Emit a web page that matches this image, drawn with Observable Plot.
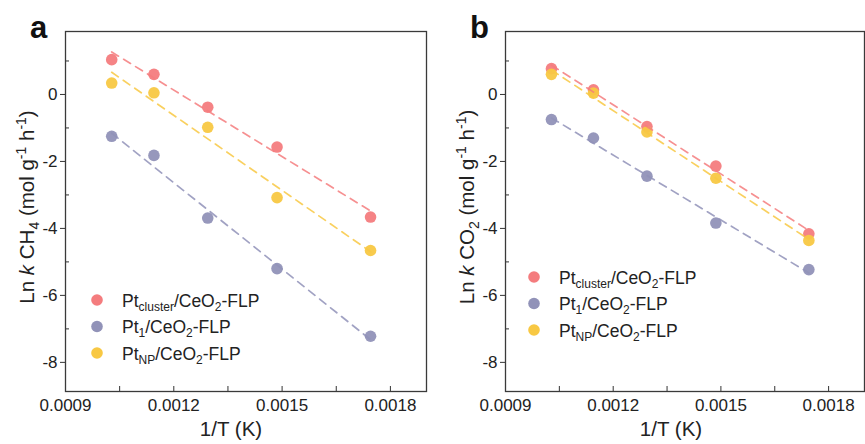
<!DOCTYPE html>
<html><head>
<meta charset="utf-8">
<script src="https://cdn.jsdelivr.net/npm/d3@7"></script>
<script src="https://cdn.jsdelivr.net/npm/@observablehq/plot@0.6"></script>
<style>
body{margin:0;background:#fff;font-family:"Liberation Sans",Arial,sans-serif;}
#wrap{position:relative;width:865px;height:444px;overflow:hidden;}
#wrap svg{position:absolute;top:0;overflow:visible;}
</style></head><body><div id="wrap"></div>
<script>
// 1/T values (K^-1)
const invT = [0.001028, 0.001145, 0.001294, 0.001486, 0.001745];
const seriesNames = ["cluster", "1", "NP"];
const seriesColors = ["#f47c7e", "#9192b8", "#f8c843"];
// Panel a: Ln k CH4
const ch4Cluster = [1.04, 0.60, -0.38, -1.57, -3.66];
const ch4Single  = [-1.25, -1.82, -3.69, -5.20, -7.22];
const ch4NP      = [0.34, 0.05, -0.98, -3.08, -4.66];
// Panel b: Ln k CO2
const co2Cluster = [0.77, 0.14, -0.96, -2.14, -4.16];
const co2Single  = [-0.75, -1.30, -2.44, -3.84, -5.23];
const co2NP      = [0.60, 0.04, -1.12, -2.50, -4.36];
// ticks
const xMajor = [0.0009, 0.0012, 0.0015, 0.0018];
const xMinor = [0.00105, 0.00135, 0.00165];
const yMajor = [-8, -6, -4, -2, 0];
const yMinor = [-7, -5, -3, -1, 1];

function rows(arrs) {
  const out = [];
  arrs.forEach((arr, s) => arr.forEach((v, i) => out.push({x: invT[i], y: v, s: seriesNames[s]})));
  return out;
}

const wrap = document.getElementById("wrap");

function panel({data, left, width, marginLeft, marginRight, letter, species, legendX, legendY}) {
  const plot = Plot.plot({
    width, height: 444,
    marginLeft, marginRight, marginTop: 31, marginBottom: 53,
    style: {fontFamily: "Liberation Sans, Arial, sans-serif", fontSize: "17px", color: "#222", background: "transparent"},
    x: {domain: [0.0009, 0.0019], label: null},
    y: {domain: [-8.87, 1.88], label: null},
    color: {domain: seriesNames, range: seriesColors},
    marks: [
      Plot.dot(data, {x: "x", y: "y", fill: "s", r: 5.8, fillOpacity: 0.95}),
      Plot.linearRegressionY(data, {x: "x", y: "y", stroke: "s", ci: 0, strokeWidth: 1.7, strokeDasharray: "8,6", strokeOpacity: 0.85}),
      Plot.axisX({ticks: xMajor, tickSize: 0, tickPadding: 7, tickFormat: d => d.toFixed(4), fontSize: 17, label: null}),
      Plot.axisX({ticks: [...xMajor, ...xMinor], tickSize: -5, text: null, label: null, stroke: "#333"}),
      Plot.axisY({ticks: yMajor, tickSize: 5, tickPadding: 3, tickFormat: d => d, fontSize: 17, label: null, stroke: "#333"}),
      Plot.axisY({ticks: yMinor, tickSize: -4, text: null, label: null, stroke: "#333"}),
      Plot.frame({stroke: "#3a3a3a", strokeWidth: 1.3})
    ]
  });
  plot.style.left = left + "px";
  const svg = d3.select(plot);
  // panel letter
  svg.append("text").attr("x", marginLeft - 35).attr("y", 38).attr("text-anchor", "start")
    .attr("font-size", 31).attr("font-weight", "bold").attr("fill", "#111").text(letter);
  // y label
  const yl = svg.append("text")
    .attr("transform", `translate(${marginLeft - 31},207) rotate(-90)`)
    .attr("text-anchor", "middle").attr("font-size", 20.5).attr("fill", "#222");
  yl.append("tspan").text("Ln ");
  yl.append("tspan").attr("font-style", "italic").text("k");
  yl.append("tspan").text(" " + species[0]);
  yl.append("tspan").attr("font-size", 14).attr("dy", 5).text(species[1]);
  yl.append("tspan").attr("dy", -5).text(" (mol g");
  yl.append("tspan").attr("font-size", 14).attr("dy", -8).text("-1");
  yl.append("tspan").attr("dy", 8).text(" h");
  yl.append("tspan").attr("font-size", 14).attr("dy", -8).text("-1");
  yl.append("tspan").attr("dy", 8).text(")");
  // x label
  svg.append("text").attr("x", marginLeft + 166).attr("y", 436)
    .attr("text-anchor", "middle").attr("font-size", 20.5).attr("fill", "#222").text("1/T (K)");
  // legend
  seriesNames.forEach((name, i) => {
    const cy = legendY + i * 26.5;
    svg.append("circle").attr("cx", legendX).attr("cy", cy).attr("r", 5.8).attr("fill", seriesColors[i]);
    const t = svg.append("text").attr("x", legendX + 25).attr("y", cy + 6.5).attr("text-anchor", "start")
      .attr("font-size", 17.5).attr("fill", "#222");
    t.append("tspan").text("Pt");
    t.append("tspan").attr("font-size", 12).attr("dy", 4).text(name);
    t.append("tspan").attr("dy", -4).text("/CeO");
    t.append("tspan").attr("font-size", 12).attr("dy", 4).text("2");
    t.append("tspan").attr("dy", -4).text("-FLP");
  });
  wrap.appendChild(plot);
}

panel({data: rows([ch4Cluster, ch4Single, ch4NP]), left: 0, width: 432, marginLeft: 65, marginRight: 6,
  letter: "a", species: ["CH", "4"], legendX: 97, legendY: 300});
panel({data: rows([co2Cluster, co2Single, co2NP]), left: 432, width: 433, marginLeft: 73, marginRight: 1,
  letter: "b", species: ["CO", "2"], legendX: 102, legendY: 277});
</script>
</body></html>
